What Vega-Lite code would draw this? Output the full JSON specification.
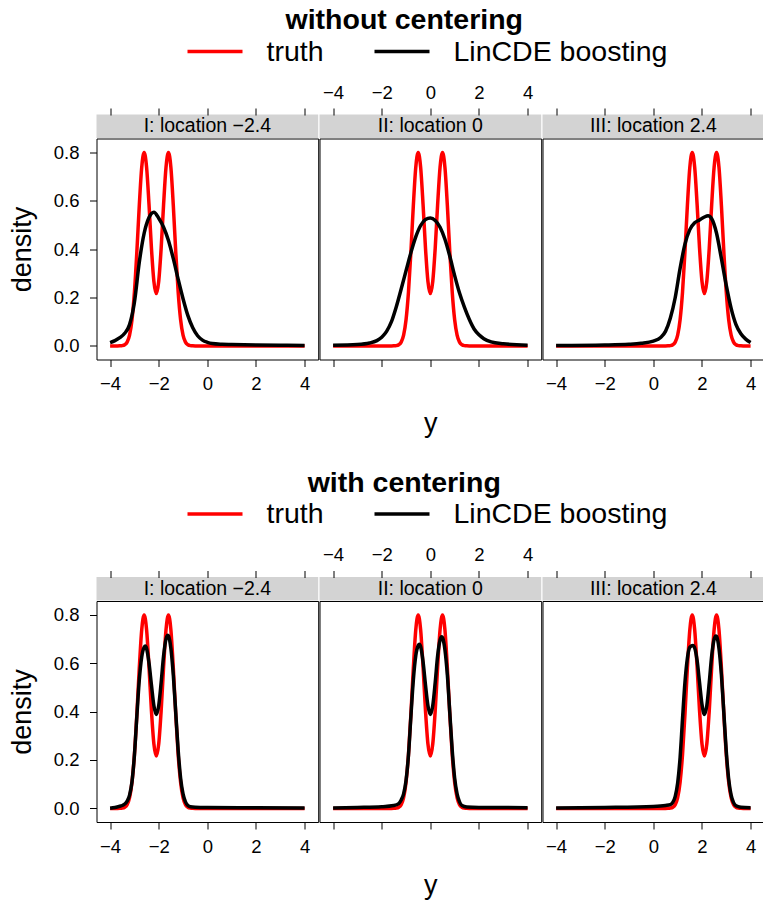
{
"$schema": "https://vega.github.io/schema/vega-lite/v6.json",
"background": "white",
"padding": {"left": 7.5, "top": 5.5, "right": 0, "bottom": 0},
"config": {
  "font": "Liberation Sans",
  "view": {"stroke": "black", "strokeWidth": 1},
  "axis": {"labelFontSize": 18.5, "labelColor": "black", "labelFont": "Liberation Sans", "tickColor": "black", "tickWidth": 1, "tickSize": 7, "labelPadding": 8, "domain": false, "grid": false, "titleFontSize": 27, "titleFontWeight": "normal", "titleColor": "black", "titleFont": "Liberation Sans", "labelFlush": false, "labelOverlap": false},
  "legend": {"orient": "none", "direction": "horizontal", "symbolType": "stroke", "symbolSize": 3025, "symbolStrokeWidth": 3.5, "labelFontSize": 28.5, "labelColor": "black", "labelFont": "Liberation Sans", "labelOffset": 22, "columnPadding": 43, "padding": 0, "labelLimit": 500},
  "title": {"fontSize": 28.5, "fontWeight": "bold", "color": "black", "font": "Liberation Sans", "anchor": "middle"}
},
"datasets": {
"curves": [
{"c":"I","s":"truth","x":-4,"y":0},{"c":"I","s":"truth","x":-3.7,"y":0},{"c":"I","s":"truth","x":-3.6,"y":0.0003},{"c":"I","s":"truth","x":-3.5,"y":0.0012},{"c":"I","s":"truth","x":-3.4,"y":0.0048},{"c":"I","s":"truth","x":-3.3,"y":0.0158},{"c":"I","s":"truth","x":-3.2,"y":0.0448},{"c":"I","s":"truth","x":-3.1,"y":0.108},{"c":"I","s":"truth","x":-3.0,"y":0.222},{"c":"I","s":"truth","x":-2.9,"y":0.388},{"c":"I","s":"truth","x":-2.8,"y":0.579},{"c":"I","s":"truth","x":-2.7,"y":0.737},{"c":"I","s":"truth","x":-2.6,"y":0.798},{"c":"I","s":"truth","x":-2.5,"y":0.738},{"c":"I","s":"truth","x":-2.4,"y":0.584},{"c":"I","s":"truth","x":-2.3,"y":0.404},{"c":"I","s":"truth","x":-2.2,"y":0.267},{"c":"I","s":"truth","x":-2.1,"y":0.216},{"c":"I","s":"truth","x":-2.0,"y":0.267},{"c":"I","s":"truth","x":-1.9,"y":0.404},{"c":"I","s":"truth","x":-1.8,"y":0.584},{"c":"I","s":"truth","x":-1.7,"y":0.738},{"c":"I","s":"truth","x":-1.6,"y":0.798},{"c":"I","s":"truth","x":-1.5,"y":0.737},{"c":"I","s":"truth","x":-1.4,"y":0.579},{"c":"I","s":"truth","x":-1.3,"y":0.388},{"c":"I","s":"truth","x":-1.2,"y":0.222},{"c":"I","s":"truth","x":-1.1,"y":0.108},{"c":"I","s":"truth","x":-1.0,"y":0.0448},{"c":"I","s":"truth","x":-0.9,"y":0.0158},{"c":"I","s":"truth","x":-0.8,"y":0.0048},{"c":"I","s":"truth","x":-0.7,"y":0.0012},{"c":"I","s":"truth","x":-0.6,"y":0.0003},{"c":"I","s":"truth","x":-0.5,"y":0},{"c":"I","s":"truth","x":4,"y":0},
{"c":"II","s":"truth","x":-4,"y":0},{"c":"II","s":"truth","x":-1.6,"y":0},{"c":"II","s":"truth","x":-1.5,"y":0.0003},{"c":"II","s":"truth","x":-1.4,"y":0.0012},{"c":"II","s":"truth","x":-1.3,"y":0.0048},{"c":"II","s":"truth","x":-1.2,"y":0.0158},{"c":"II","s":"truth","x":-1.1,"y":0.0448},{"c":"II","s":"truth","x":-1.0,"y":0.108},{"c":"II","s":"truth","x":-0.9,"y":0.222},{"c":"II","s":"truth","x":-0.8,"y":0.388},{"c":"II","s":"truth","x":-0.7,"y":0.579},{"c":"II","s":"truth","x":-0.6,"y":0.737},{"c":"II","s":"truth","x":-0.5,"y":0.798},{"c":"II","s":"truth","x":-0.4,"y":0.738},{"c":"II","s":"truth","x":-0.3,"y":0.584},{"c":"II","s":"truth","x":-0.2,"y":0.404},{"c":"II","s":"truth","x":-0.1,"y":0.267},{"c":"II","s":"truth","x":0,"y":0.216},{"c":"II","s":"truth","x":0.1,"y":0.267},{"c":"II","s":"truth","x":0.2,"y":0.404},{"c":"II","s":"truth","x":0.3,"y":0.584},{"c":"II","s":"truth","x":0.4,"y":0.738},{"c":"II","s":"truth","x":0.5,"y":0.798},{"c":"II","s":"truth","x":0.6,"y":0.737},{"c":"II","s":"truth","x":0.7,"y":0.579},{"c":"II","s":"truth","x":0.8,"y":0.388},{"c":"II","s":"truth","x":0.9,"y":0.222},{"c":"II","s":"truth","x":1.0,"y":0.108},{"c":"II","s":"truth","x":1.1,"y":0.0448},{"c":"II","s":"truth","x":1.2,"y":0.0158},{"c":"II","s":"truth","x":1.3,"y":0.0048},{"c":"II","s":"truth","x":1.4,"y":0.0012},{"c":"II","s":"truth","x":1.5,"y":0.0003},{"c":"II","s":"truth","x":1.6,"y":0},{"c":"II","s":"truth","x":4,"y":0},
{"c":"III","s":"truth","x":-4,"y":0},{"c":"III","s":"truth","x":0.5,"y":0},{"c":"III","s":"truth","x":0.6,"y":0.0003},{"c":"III","s":"truth","x":0.7,"y":0.0012},{"c":"III","s":"truth","x":0.8,"y":0.0048},{"c":"III","s":"truth","x":0.9,"y":0.0158},{"c":"III","s":"truth","x":1.0,"y":0.0448},{"c":"III","s":"truth","x":1.1,"y":0.108},{"c":"III","s":"truth","x":1.2,"y":0.222},{"c":"III","s":"truth","x":1.3,"y":0.388},{"c":"III","s":"truth","x":1.4,"y":0.579},{"c":"III","s":"truth","x":1.5,"y":0.737},{"c":"III","s":"truth","x":1.6,"y":0.798},{"c":"III","s":"truth","x":1.7,"y":0.738},{"c":"III","s":"truth","x":1.8,"y":0.584},{"c":"III","s":"truth","x":1.9,"y":0.404},{"c":"III","s":"truth","x":2.0,"y":0.267},{"c":"III","s":"truth","x":2.1,"y":0.216},{"c":"III","s":"truth","x":2.2,"y":0.267},{"c":"III","s":"truth","x":2.3,"y":0.404},{"c":"III","s":"truth","x":2.4,"y":0.584},{"c":"III","s":"truth","x":2.5,"y":0.738},{"c":"III","s":"truth","x":2.6,"y":0.798},{"c":"III","s":"truth","x":2.7,"y":0.737},{"c":"III","s":"truth","x":2.8,"y":0.579},{"c":"III","s":"truth","x":2.9,"y":0.388},{"c":"III","s":"truth","x":3.0,"y":0.222},{"c":"III","s":"truth","x":3.1,"y":0.108},{"c":"III","s":"truth","x":3.2,"y":0.0448},{"c":"III","s":"truth","x":3.3,"y":0.0158},{"c":"III","s":"truth","x":3.4,"y":0.0048},{"c":"III","s":"truth","x":3.5,"y":0.0012},{"c":"III","s":"truth","x":3.6,"y":0.0003},{"c":"III","s":"truth","x":3.7,"y":0},{"c":"III","s":"truth","x":4,"y":0},
{"p":"A","c":"I","s":"LinCDE boosting","x":-4.0,"y":0.014},{"p":"A","c":"I","s":"LinCDE boosting","x":-3.8,"y":0.022},{"p":"A","c":"I","s":"LinCDE boosting","x":-3.6,"y":0.034},{"p":"A","c":"I","s":"LinCDE boosting","x":-3.4,"y":0.052},{"p":"A","c":"I","s":"LinCDE boosting","x":-3.2,"y":0.088},{"p":"A","c":"I","s":"LinCDE boosting","x":-3.0,"y":0.18},{"p":"A","c":"I","s":"LinCDE boosting","x":-2.8,"y":0.345},{"p":"A","c":"I","s":"LinCDE boosting","x":-2.6,"y":0.465},{"p":"A","c":"I","s":"LinCDE boosting","x":-2.4,"y":0.53},{"p":"A","c":"I","s":"LinCDE boosting","x":-2.2,"y":0.552},{"p":"A","c":"I","s":"LinCDE boosting","x":-2.0,"y":0.527},{"p":"A","c":"I","s":"LinCDE boosting","x":-1.8,"y":0.49},{"p":"A","c":"I","s":"LinCDE boosting","x":-1.6,"y":0.435},{"p":"A","c":"I","s":"LinCDE boosting","x":-1.4,"y":0.36},{"p":"A","c":"I","s":"LinCDE boosting","x":-1.2,"y":0.275},{"p":"A","c":"I","s":"LinCDE boosting","x":-1.0,"y":0.195},{"p":"A","c":"I","s":"LinCDE boosting","x":-0.8,"y":0.125},{"p":"A","c":"I","s":"LinCDE boosting","x":-0.6,"y":0.075},{"p":"A","c":"I","s":"LinCDE boosting","x":-0.4,"y":0.042},{"p":"A","c":"I","s":"LinCDE boosting","x":-0.2,"y":0.024},{"p":"A","c":"I","s":"LinCDE boosting","x":0.0,"y":0.015},{"p":"A","c":"I","s":"LinCDE boosting","x":0.2,"y":0.01},{"p":"A","c":"I","s":"LinCDE boosting","x":0.6,"y":0.007},{"p":"A","c":"I","s":"LinCDE boosting","x":1.0,"y":0.006},{"p":"A","c":"I","s":"LinCDE boosting","x":2.0,"y":0.004},{"p":"A","c":"I","s":"LinCDE boosting","x":3.0,"y":0.003},{"p":"A","c":"I","s":"LinCDE boosting","x":4.0,"y":0.002},
{"p":"A","c":"II","s":"LinCDE boosting","x":-4.0,"y":0.003},{"p":"A","c":"II","s":"LinCDE boosting","x":-3.0,"y":0.006},{"p":"A","c":"II","s":"LinCDE boosting","x":-2.5,"y":0.012},{"p":"A","c":"II","s":"LinCDE boosting","x":-2.2,"y":0.022},{"p":"A","c":"II","s":"LinCDE boosting","x":-2.0,"y":0.036},{"p":"A","c":"II","s":"LinCDE boosting","x":-1.8,"y":0.06},{"p":"A","c":"II","s":"LinCDE boosting","x":-1.6,"y":0.1},{"p":"A","c":"II","s":"LinCDE boosting","x":-1.4,"y":0.162},{"p":"A","c":"II","s":"LinCDE boosting","x":-1.2,"y":0.235},{"p":"A","c":"II","s":"LinCDE boosting","x":-1.0,"y":0.31},{"p":"A","c":"II","s":"LinCDE boosting","x":-0.8,"y":0.385},{"p":"A","c":"II","s":"LinCDE boosting","x":-0.6,"y":0.45},{"p":"A","c":"II","s":"LinCDE boosting","x":-0.4,"y":0.497},{"p":"A","c":"II","s":"LinCDE boosting","x":-0.2,"y":0.522},{"p":"A","c":"II","s":"LinCDE boosting","x":0.0,"y":0.528},{"p":"A","c":"II","s":"LinCDE boosting","x":0.2,"y":0.518},{"p":"A","c":"II","s":"LinCDE boosting","x":0.4,"y":0.49},{"p":"A","c":"II","s":"LinCDE boosting","x":0.6,"y":0.44},{"p":"A","c":"II","s":"LinCDE boosting","x":0.8,"y":0.37},{"p":"A","c":"II","s":"LinCDE boosting","x":1.0,"y":0.29},{"p":"A","c":"II","s":"LinCDE boosting","x":1.2,"y":0.218},{"p":"A","c":"II","s":"LinCDE boosting","x":1.4,"y":0.16},{"p":"A","c":"II","s":"LinCDE boosting","x":1.6,"y":0.11},{"p":"A","c":"II","s":"LinCDE boosting","x":1.8,"y":0.07},{"p":"A","c":"II","s":"LinCDE boosting","x":2.0,"y":0.046},{"p":"A","c":"II","s":"LinCDE boosting","x":2.2,"y":0.03},{"p":"A","c":"II","s":"LinCDE boosting","x":2.5,"y":0.017},{"p":"A","c":"II","s":"LinCDE boosting","x":3.0,"y":0.009},{"p":"A","c":"II","s":"LinCDE boosting","x":4.0,"y":0.003},
{"p":"A","c":"III","s":"LinCDE boosting","x":-4.0,"y":0.002},{"p":"A","c":"III","s":"LinCDE boosting","x":-2.0,"y":0.004},{"p":"A","c":"III","s":"LinCDE boosting","x":-1.0,"y":0.007},{"p":"A","c":"III","s":"LinCDE boosting","x":-0.5,"y":0.011},{"p":"A","c":"III","s":"LinCDE boosting","x":0.0,"y":0.02},{"p":"A","c":"III","s":"LinCDE boosting","x":0.3,"y":0.035},{"p":"A","c":"III","s":"LinCDE boosting","x":0.5,"y":0.06},{"p":"A","c":"III","s":"LinCDE boosting","x":0.7,"y":0.115},{"p":"A","c":"III","s":"LinCDE boosting","x":0.9,"y":0.2},{"p":"A","c":"III","s":"LinCDE boosting","x":1.1,"y":0.32},{"p":"A","c":"III","s":"LinCDE boosting","x":1.3,"y":0.42},{"p":"A","c":"III","s":"LinCDE boosting","x":1.5,"y":0.48},{"p":"A","c":"III","s":"LinCDE boosting","x":1.7,"y":0.508},{"p":"A","c":"III","s":"LinCDE boosting","x":1.9,"y":0.52},{"p":"A","c":"III","s":"LinCDE boosting","x":2.1,"y":0.532},{"p":"A","c":"III","s":"LinCDE boosting","x":2.25,"y":0.537},{"p":"A","c":"III","s":"LinCDE boosting","x":2.4,"y":0.525},{"p":"A","c":"III","s":"LinCDE boosting","x":2.6,"y":0.465},{"p":"A","c":"III","s":"LinCDE boosting","x":2.8,"y":0.36},{"p":"A","c":"III","s":"LinCDE boosting","x":3.0,"y":0.25},{"p":"A","c":"III","s":"LinCDE boosting","x":3.2,"y":0.155},{"p":"A","c":"III","s":"LinCDE boosting","x":3.4,"y":0.088},{"p":"A","c":"III","s":"LinCDE boosting","x":3.6,"y":0.05},{"p":"A","c":"III","s":"LinCDE boosting","x":3.8,"y":0.028},{"p":"A","c":"III","s":"LinCDE boosting","x":4.0,"y":0.014},
{"p":"B","c":"I","s":"LinCDE boosting","x":-4.0,"y":0.001},{"p":"B","c":"I","s":"LinCDE boosting","x":-3.8,"y":0.004},{"p":"B","c":"I","s":"LinCDE boosting","x":-3.6,"y":0.009},{"p":"B","c":"I","s":"LinCDE boosting","x":-3.5,"y":0.012},{"p":"B","c":"I","s":"LinCDE boosting","x":-3.4,"y":0.018},{"p":"B","c":"I","s":"LinCDE boosting","x":-3.3,"y":0.03},{"p":"B","c":"I","s":"LinCDE boosting","x":-3.2,"y":0.055},{"p":"B","c":"I","s":"LinCDE boosting","x":-3.1,"y":0.11},{"p":"B","c":"I","s":"LinCDE boosting","x":-3.0,"y":0.22},{"p":"B","c":"I","s":"LinCDE boosting","x":-2.9,"y":0.38},{"p":"B","c":"I","s":"LinCDE boosting","x":-2.8,"y":0.53},{"p":"B","c":"I","s":"LinCDE boosting","x":-2.7,"y":0.625},{"p":"B","c":"I","s":"LinCDE boosting","x":-2.6,"y":0.665},{"p":"B","c":"I","s":"LinCDE boosting","x":-2.55,"y":0.67},{"p":"B","c":"I","s":"LinCDE boosting","x":-2.5,"y":0.66},{"p":"B","c":"I","s":"LinCDE boosting","x":-2.4,"y":0.6},{"p":"B","c":"I","s":"LinCDE boosting","x":-2.3,"y":0.51},{"p":"B","c":"I","s":"LinCDE boosting","x":-2.2,"y":0.425},{"p":"B","c":"I","s":"LinCDE boosting","x":-2.1,"y":0.388},{"p":"B","c":"I","s":"LinCDE boosting","x":-2.0,"y":0.425},{"p":"B","c":"I","s":"LinCDE boosting","x":-1.9,"y":0.52},{"p":"B","c":"I","s":"LinCDE boosting","x":-1.8,"y":0.63},{"p":"B","c":"I","s":"LinCDE boosting","x":-1.7,"y":0.7},{"p":"B","c":"I","s":"LinCDE boosting","x":-1.63,"y":0.715},{"p":"B","c":"I","s":"LinCDE boosting","x":-1.6,"y":0.712},{"p":"B","c":"I","s":"LinCDE boosting","x":-1.5,"y":0.66},{"p":"B","c":"I","s":"LinCDE boosting","x":-1.4,"y":0.55},{"p":"B","c":"I","s":"LinCDE boosting","x":-1.3,"y":0.395},{"p":"B","c":"I","s":"LinCDE boosting","x":-1.2,"y":0.24},{"p":"B","c":"I","s":"LinCDE boosting","x":-1.1,"y":0.125},{"p":"B","c":"I","s":"LinCDE boosting","x":-1.0,"y":0.06},{"p":"B","c":"I","s":"LinCDE boosting","x":-0.9,"y":0.027},{"p":"B","c":"I","s":"LinCDE boosting","x":-0.8,"y":0.012},{"p":"B","c":"I","s":"LinCDE boosting","x":-0.7,"y":0.007},{"p":"B","c":"I","s":"LinCDE boosting","x":-0.5,"y":0.005},{"p":"B","c":"I","s":"LinCDE boosting","x":0.0,"y":0.004},{"p":"B","c":"I","s":"LinCDE boosting","x":2.0,"y":0.003},{"p":"B","c":"I","s":"LinCDE boosting","x":4.0,"y":0.002},
{"p":"B","c":"II","s":"LinCDE boosting","x":-4.0,"y":0.002},{"p":"B","c":"II","s":"LinCDE boosting","x":-3.0,"y":0.004},{"p":"B","c":"II","s":"LinCDE boosting","x":-2.0,"y":0.007},{"p":"B","c":"II","s":"LinCDE boosting","x":-1.5,"y":0.012},{"p":"B","c":"II","s":"LinCDE boosting","x":-1.3,"y":0.02},{"p":"B","c":"II","s":"LinCDE boosting","x":-1.2,"y":0.035},{"p":"B","c":"II","s":"LinCDE boosting","x":-1.1,"y":0.06},{"p":"B","c":"II","s":"LinCDE boosting","x":-1.0,"y":0.115},{"p":"B","c":"II","s":"LinCDE boosting","x":-0.9,"y":0.22},{"p":"B","c":"II","s":"LinCDE boosting","x":-0.8,"y":0.38},{"p":"B","c":"II","s":"LinCDE boosting","x":-0.7,"y":0.53},{"p":"B","c":"II","s":"LinCDE boosting","x":-0.6,"y":0.63},{"p":"B","c":"II","s":"LinCDE boosting","x":-0.5,"y":0.672},{"p":"B","c":"II","s":"LinCDE boosting","x":-0.45,"y":0.678},{"p":"B","c":"II","s":"LinCDE boosting","x":-0.4,"y":0.668},{"p":"B","c":"II","s":"LinCDE boosting","x":-0.3,"y":0.605},{"p":"B","c":"II","s":"LinCDE boosting","x":-0.2,"y":0.51},{"p":"B","c":"II","s":"LinCDE boosting","x":-0.1,"y":0.425},{"p":"B","c":"II","s":"LinCDE boosting","x":0.0,"y":0.388},{"p":"B","c":"II","s":"LinCDE boosting","x":0.1,"y":0.425},{"p":"B","c":"II","s":"LinCDE boosting","x":0.2,"y":0.52},{"p":"B","c":"II","s":"LinCDE boosting","x":0.3,"y":0.63},{"p":"B","c":"II","s":"LinCDE boosting","x":0.4,"y":0.695},{"p":"B","c":"II","s":"LinCDE boosting","x":0.47,"y":0.708},{"p":"B","c":"II","s":"LinCDE boosting","x":0.5,"y":0.705},{"p":"B","c":"II","s":"LinCDE boosting","x":0.6,"y":0.655},{"p":"B","c":"II","s":"LinCDE boosting","x":0.7,"y":0.55},{"p":"B","c":"II","s":"LinCDE boosting","x":0.8,"y":0.395},{"p":"B","c":"II","s":"LinCDE boosting","x":0.9,"y":0.24},{"p":"B","c":"II","s":"LinCDE boosting","x":1.0,"y":0.125},{"p":"B","c":"II","s":"LinCDE boosting","x":1.1,"y":0.06},{"p":"B","c":"II","s":"LinCDE boosting","x":1.2,"y":0.027},{"p":"B","c":"II","s":"LinCDE boosting","x":1.3,"y":0.012},{"p":"B","c":"II","s":"LinCDE boosting","x":1.5,"y":0.006},{"p":"B","c":"II","s":"LinCDE boosting","x":2.0,"y":0.004},{"p":"B","c":"II","s":"LinCDE boosting","x":4.0,"y":0.003},
{"p":"B","c":"III","s":"LinCDE boosting","x":-4.0,"y":0.002},{"p":"B","c":"III","s":"LinCDE boosting","x":-2.0,"y":0.004},{"p":"B","c":"III","s":"LinCDE boosting","x":0.0,"y":0.008},{"p":"B","c":"III","s":"LinCDE boosting","x":0.5,"y":0.012},{"p":"B","c":"III","s":"LinCDE boosting","x":0.7,"y":0.016},{"p":"B","c":"III","s":"LinCDE boosting","x":0.8,"y":0.025},{"p":"B","c":"III","s":"LinCDE boosting","x":0.9,"y":0.05},{"p":"B","c":"III","s":"LinCDE boosting","x":1.0,"y":0.105},{"p":"B","c":"III","s":"LinCDE boosting","x":1.1,"y":0.21},{"p":"B","c":"III","s":"LinCDE boosting","x":1.2,"y":0.37},{"p":"B","c":"III","s":"LinCDE boosting","x":1.3,"y":0.52},{"p":"B","c":"III","s":"LinCDE boosting","x":1.4,"y":0.62},{"p":"B","c":"III","s":"LinCDE boosting","x":1.5,"y":0.665},{"p":"B","c":"III","s":"LinCDE boosting","x":1.63,"y":0.672},{"p":"B","c":"III","s":"LinCDE boosting","x":1.7,"y":0.662},{"p":"B","c":"III","s":"LinCDE boosting","x":1.8,"y":0.61},{"p":"B","c":"III","s":"LinCDE boosting","x":1.9,"y":0.52},{"p":"B","c":"III","s":"LinCDE boosting","x":2.0,"y":0.43},{"p":"B","c":"III","s":"LinCDE boosting","x":2.1,"y":0.388},{"p":"B","c":"III","s":"LinCDE boosting","x":2.2,"y":0.425},{"p":"B","c":"III","s":"LinCDE boosting","x":2.3,"y":0.52},{"p":"B","c":"III","s":"LinCDE boosting","x":2.4,"y":0.63},{"p":"B","c":"III","s":"LinCDE boosting","x":2.5,"y":0.698},{"p":"B","c":"III","s":"LinCDE boosting","x":2.57,"y":0.712},{"p":"B","c":"III","s":"LinCDE boosting","x":2.6,"y":0.71},{"p":"B","c":"III","s":"LinCDE boosting","x":2.7,"y":0.66},{"p":"B","c":"III","s":"LinCDE boosting","x":2.8,"y":0.55},{"p":"B","c":"III","s":"LinCDE boosting","x":2.9,"y":0.395},{"p":"B","c":"III","s":"LinCDE boosting","x":3.0,"y":0.235},{"p":"B","c":"III","s":"LinCDE boosting","x":3.1,"y":0.12},{"p":"B","c":"III","s":"LinCDE boosting","x":3.2,"y":0.055},{"p":"B","c":"III","s":"LinCDE boosting","x":3.3,"y":0.024},{"p":"B","c":"III","s":"LinCDE boosting","x":3.4,"y":0.011},{"p":"B","c":"III","s":"LinCDE boosting","x":3.6,"y":0.005},{"p":"B","c":"III","s":"LinCDE boosting","x":4.0,"y":0.003}
]
},
"data": {"name": "curves"},
"resolve": {"scale": {"color": "independent"}},
"spacing": 31.5,
"vconcat": [
{
  "title": {"text": "without centering", "offset": -12.5, "dx": 18},
  "spacing": -3,
  "hconcat": [
    {"spacing": 0, "bounds": "flush", "vconcat": [
      {"width": 221.7, "height": 23.5, "view": {"fill": "#d3d3d3"}, "data": {"values": [{"label": "I: location −2.4"}]}, "mark": {"type": "text", "fontSize": 19.5, "font": "Liberation Sans", "color": "black"}, "encoding": {"text": {"field": "label"}}},
      {"width": 221.7, "height": 221, "resolve": {"axis": {"x": "independent", "y": "independent"}}, "layer": [
        {"transform": [{"filter": "datum.c=='I' && datum.s=='truth'"}], "mark": {"type": "line", "strokeWidth": 3.5, "interpolate": "monotone"},
         "encoding": {"x": {"field": "x", "type": "quantitative", "scale": {"domain": [-4.56, 4.56], "nice": false, "zero": false}, "axis": {"orient": "bottom", "values": [-4,-2,0,2,4], "format": "d", "title": null}},
           "y": {"field": "y", "type": "quantitative", "scale": {"domain": [-0.056, 0.856], "nice": false, "zero": false}, "axis": {"orient": "left", "values": [0,0.2,0.4,0.6,0.8], "format": ".1f", "title": "density", "titlePadding": 17, "labelPadding": 10.5}},
           "color": {"field": "s", "type": "nominal", "scale": {"domain": ["truth", "LinCDE boosting"], "range": ["#ff0000", "#000000"]}, "legend": {"legendX": 89, "legendY": -92.5, "title": null}}}},
        {"transform": [{"filter": "datum.p=='A' && datum.c=='I' && datum.s=='LinCDE boosting'"}], "mark": {"type": "line", "strokeWidth": 3.5, "interpolate": "monotone"},
         "encoding": {"x": {"field": "x", "type": "quantitative", "scale": {"domain": [-4.56, 4.56], "nice": false, "zero": false}, "axis": {"orient": "top", "values": [-4,-2,0,2,4], "labels": false, "title": null, "offset": 23.5}},
           "y": {"field": "y", "type": "quantitative", "scale": {"domain": [-0.056, 0.856], "nice": false, "zero": false}, "axis": null},
           "color": {"field": "s", "type": "nominal", "scale": {"domain": ["truth", "LinCDE boosting"], "range": ["#ff0000", "#000000"]}, "legend": {"legendX": 89, "legendY": -92.5, "title": null}}}}
      ]}
    ]},
    {"spacing": 0, "bounds": "flush", "vconcat": [
      {"width": 221.7, "height": 23.5, "view": {"fill": "#d3d3d3"}, "data": {"values": [{"label": "II: location 0"}]}, "mark": {"type": "text", "fontSize": 19.5, "font": "Liberation Sans", "color": "black"}, "encoding": {"text": {"field": "label"}}},
      {"width": 221.7, "height": 221, "resolve": {"axis": {"x": "independent", "y": "independent"}}, "layer": [
        {"transform": [{"filter": "datum.c=='II' && datum.s=='truth'"}], "mark": {"type": "line", "strokeWidth": 3.5, "interpolate": "monotone"},
         "encoding": {"x": {"field": "x", "type": "quantitative", "scale": {"domain": [-4.56, 4.56], "nice": false, "zero": false}, "axis": {"orient": "bottom", "values": [-4,-2,0,2,4], "labels": false, "title": "y", "titlePadding": 43}},
           "y": {"field": "y", "type": "quantitative", "scale": {"domain": [-0.056, 0.856], "nice": false, "zero": false}, "axis": null},
           "color": {"field": "s", "type": "nominal", "scale": {"domain": ["truth", "LinCDE boosting"], "range": ["#ff0000", "#000000"]}, "legend": {"legendX": 89, "legendY": -92.5, "title": null}}}},
        {"transform": [{"filter": "datum.p=='A' && datum.c=='II' && datum.s=='LinCDE boosting'"}], "mark": {"type": "line", "strokeWidth": 3.5, "interpolate": "monotone"},
         "encoding": {"x": {"field": "x", "type": "quantitative", "scale": {"domain": [-4.56, 4.56], "nice": false, "zero": false}, "axis": {"orient": "top", "values": [-4,-2,0,2,4], "format": "d", "title": null, "offset": 23.5, "labelPadding": 6}},
           "y": {"field": "y", "type": "quantitative", "scale": {"domain": [-0.056, 0.856], "nice": false, "zero": false}, "axis": null},
           "color": {"field": "s", "type": "nominal", "scale": {"domain": ["truth", "LinCDE boosting"], "range": ["#ff0000", "#000000"]}, "legend": {"legendX": 89, "legendY": -92.5, "title": null}}}}
      ]}
    ]},
    {"spacing": 0, "bounds": "flush", "vconcat": [
      {"width": 221.7, "height": 23.5, "view": {"fill": "#d3d3d3"}, "data": {"values": [{"label": "III: location 2.4"}]}, "mark": {"type": "text", "fontSize": 19.5, "font": "Liberation Sans", "color": "black"}, "encoding": {"text": {"field": "label"}}},
      {"width": 221.7, "height": 221, "resolve": {"axis": {"x": "independent", "y": "independent"}}, "layer": [
        {"transform": [{"filter": "datum.c=='III' && datum.s=='truth'"}], "mark": {"type": "line", "strokeWidth": 3.5, "interpolate": "monotone"},
         "encoding": {"x": {"field": "x", "type": "quantitative", "scale": {"domain": [-4.56, 4.56], "nice": false, "zero": false}, "axis": {"orient": "bottom", "values": [-4,-2,0,2,4], "format": "d", "title": null}},
           "y": {"field": "y", "type": "quantitative", "scale": {"domain": [-0.056, 0.856], "nice": false, "zero": false}, "axis": null},
           "color": {"field": "s", "type": "nominal", "scale": {"domain": ["truth", "LinCDE boosting"], "range": ["#ff0000", "#000000"]}, "legend": {"legendX": 89, "legendY": -92.5, "title": null}}}},
        {"transform": [{"filter": "datum.p=='A' && datum.c=='III' && datum.s=='LinCDE boosting'"}], "mark": {"type": "line", "strokeWidth": 3.5, "interpolate": "monotone"},
         "encoding": {"x": {"field": "x", "type": "quantitative", "scale": {"domain": [-4.56, 4.56], "nice": false, "zero": false}, "axis": {"orient": "top", "values": [-4,-2,0,2,4], "labels": false, "title": null, "offset": 23.5}},
           "y": {"field": "y", "type": "quantitative", "scale": {"domain": [-0.056, 0.856], "nice": false, "zero": false}, "axis": null},
           "color": {"field": "s", "type": "nominal", "scale": {"domain": ["truth", "LinCDE boosting"], "range": ["#ff0000", "#000000"]}, "legend": {"legendX": 89, "legendY": -92.5, "title": null}}}}
      ]}
    ]}
  ]
},
{
  "title": {"text": "with centering", "offset": -12.5, "dx": 18},
  "spacing": -3,
  "hconcat": [
    {"spacing": 0, "bounds": "flush", "vconcat": [
      {"width": 221.7, "height": 23.5, "view": {"fill": "#d3d3d3"}, "data": {"values": [{"label": "I: location −2.4"}]}, "mark": {"type": "text", "fontSize": 19.5, "font": "Liberation Sans", "color": "black"}, "encoding": {"text": {"field": "label"}}},
      {"width": 221.7, "height": 221, "resolve": {"axis": {"x": "independent", "y": "independent"}}, "layer": [
        {"transform": [{"filter": "datum.c=='I' && datum.s=='truth'"}], "mark": {"type": "line", "strokeWidth": 3.5, "interpolate": "monotone"},
         "encoding": {"x": {"field": "x", "type": "quantitative", "scale": {"domain": [-4.56, 4.56], "nice": false, "zero": false}, "axis": {"orient": "bottom", "values": [-4,-2,0,2,4], "format": "d", "title": null}},
           "y": {"field": "y", "type": "quantitative", "scale": {"domain": [-0.056, 0.856], "nice": false, "zero": false}, "axis": {"orient": "left", "values": [0,0.2,0.4,0.6,0.8], "format": ".1f", "title": "density", "titlePadding": 17, "labelPadding": 10.5}},
           "color": {"field": "s", "type": "nominal", "scale": {"domain": ["truth", "LinCDE boosting"], "range": ["#ff0000", "#000000"]}, "legend": {"legendX": 89, "legendY": -92.5, "title": null}}}},
        {"transform": [{"filter": "datum.p=='B' && datum.c=='I' && datum.s=='LinCDE boosting'"}], "mark": {"type": "line", "strokeWidth": 3.5, "interpolate": "monotone"},
         "encoding": {"x": {"field": "x", "type": "quantitative", "scale": {"domain": [-4.56, 4.56], "nice": false, "zero": false}, "axis": {"orient": "top", "values": [-4,-2,0,2,4], "labels": false, "title": null, "offset": 23.5}},
           "y": {"field": "y", "type": "quantitative", "scale": {"domain": [-0.056, 0.856], "nice": false, "zero": false}, "axis": null},
           "color": {"field": "s", "type": "nominal", "scale": {"domain": ["truth", "LinCDE boosting"], "range": ["#ff0000", "#000000"]}, "legend": {"legendX": 89, "legendY": -92.5, "title": null}}}}
      ]}
    ]},
    {"spacing": 0, "bounds": "flush", "vconcat": [
      {"width": 221.7, "height": 23.5, "view": {"fill": "#d3d3d3"}, "data": {"values": [{"label": "II: location 0"}]}, "mark": {"type": "text", "fontSize": 19.5, "font": "Liberation Sans", "color": "black"}, "encoding": {"text": {"field": "label"}}},
      {"width": 221.7, "height": 221, "resolve": {"axis": {"x": "independent", "y": "independent"}}, "layer": [
        {"transform": [{"filter": "datum.c=='II' && datum.s=='truth'"}], "mark": {"type": "line", "strokeWidth": 3.5, "interpolate": "monotone"},
         "encoding": {"x": {"field": "x", "type": "quantitative", "scale": {"domain": [-4.56, 4.56], "nice": false, "zero": false}, "axis": {"orient": "bottom", "values": [-4,-2,0,2,4], "labels": false, "title": "y", "titlePadding": 43}},
           "y": {"field": "y", "type": "quantitative", "scale": {"domain": [-0.056, 0.856], "nice": false, "zero": false}, "axis": null},
           "color": {"field": "s", "type": "nominal", "scale": {"domain": ["truth", "LinCDE boosting"], "range": ["#ff0000", "#000000"]}, "legend": {"legendX": 89, "legendY": -92.5, "title": null}}}},
        {"transform": [{"filter": "datum.p=='B' && datum.c=='II' && datum.s=='LinCDE boosting'"}], "mark": {"type": "line", "strokeWidth": 3.5, "interpolate": "monotone"},
         "encoding": {"x": {"field": "x", "type": "quantitative", "scale": {"domain": [-4.56, 4.56], "nice": false, "zero": false}, "axis": {"orient": "top", "values": [-4,-2,0,2,4], "format": "d", "title": null, "offset": 23.5, "labelPadding": 6}},
           "y": {"field": "y", "type": "quantitative", "scale": {"domain": [-0.056, 0.856], "nice": false, "zero": false}, "axis": null},
           "color": {"field": "s", "type": "nominal", "scale": {"domain": ["truth", "LinCDE boosting"], "range": ["#ff0000", "#000000"]}, "legend": {"legendX": 89, "legendY": -92.5, "title": null}}}}
      ]}
    ]},
    {"spacing": 0, "bounds": "flush", "vconcat": [
      {"width": 221.7, "height": 23.5, "view": {"fill": "#d3d3d3"}, "data": {"values": [{"label": "III: location 2.4"}]}, "mark": {"type": "text", "fontSize": 19.5, "font": "Liberation Sans", "color": "black"}, "encoding": {"text": {"field": "label"}}},
      {"width": 221.7, "height": 221, "resolve": {"axis": {"x": "independent", "y": "independent"}}, "layer": [
        {"transform": [{"filter": "datum.c=='III' && datum.s=='truth'"}], "mark": {"type": "line", "strokeWidth": 3.5, "interpolate": "monotone"},
         "encoding": {"x": {"field": "x", "type": "quantitative", "scale": {"domain": [-4.56, 4.56], "nice": false, "zero": false}, "axis": {"orient": "bottom", "values": [-4,-2,0,2,4], "format": "d", "title": null}},
           "y": {"field": "y", "type": "quantitative", "scale": {"domain": [-0.056, 0.856], "nice": false, "zero": false}, "axis": null},
           "color": {"field": "s", "type": "nominal", "scale": {"domain": ["truth", "LinCDE boosting"], "range": ["#ff0000", "#000000"]}, "legend": {"legendX": 89, "legendY": -92.5, "title": null}}}},
        {"transform": [{"filter": "datum.p=='B' && datum.c=='III' && datum.s=='LinCDE boosting'"}], "mark": {"type": "line", "strokeWidth": 3.5, "interpolate": "monotone"},
         "encoding": {"x": {"field": "x", "type": "quantitative", "scale": {"domain": [-4.56, 4.56], "nice": false, "zero": false}, "axis": {"orient": "top", "values": [-4,-2,0,2,4], "labels": false, "title": null, "offset": 23.5}},
           "y": {"field": "y", "type": "quantitative", "scale": {"domain": [-0.056, 0.856], "nice": false, "zero": false}, "axis": null},
           "color": {"field": "s", "type": "nominal", "scale": {"domain": ["truth", "LinCDE boosting"], "range": ["#ff0000", "#000000"]}, "legend": {"legendX": 89, "legendY": -92.5, "title": null}}}}
      ]}
    ]}
  ]
}
]
}
